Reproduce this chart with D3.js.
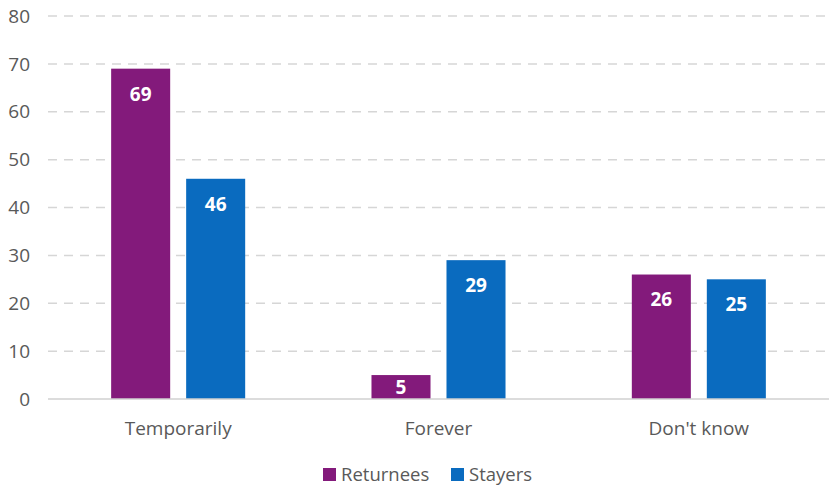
<!DOCTYPE html>
<html>
<head>
<meta charset="utf-8">
<script src="https://cdn.jsdelivr.net/npm/d3@7"></script>
<style>
  body { margin: 0; background: #fff; }
  text { font-family: "Open Sans", "Noto Sans", sans-serif; }
</style>
</head>
<body>
<div id="chart"></div>
<script>
// data
const categories = ["Temporarily", "Forever", "Don't know"];
const series = ["Returnees", "Stayers"];
const returnees = [69, 5, 26];
const stayers = [46, 29, 25];
const yTicks = [0, 10, 20, 30, 40, 50, 60, 70, 80];

const colors = {Returnees: "#831a7b", Stayers: "#0a6bbf"};

const width = 831, height = 486;
const margin = {top: 16, bottom: 87, left: 48, right: 2};

const rows = categories.map((c, i) => ({category: c, Returnees: returnees[i], Stayers: stayers[i]}));

const svg = d3.select("#chart")
    .append("svg")
    .attr("width", width)
    .attr("height", height);

const x0 = d3.scaleBand()
    .domain(categories)
    .range([margin.left, width - margin.right])
    .padding(0);

const x1 = d3.scaleBand()
    .domain(series)
    .range([0, x0.bandwidth()])
    .paddingInner(0.213)
    .paddingOuter(0.842);

const y = d3.scaleLinear()
    .domain([0, 80])
    .range([height - margin.bottom, margin.top]);

// dashed gridlines
svg.append("g")
    .selectAll("line")
    .data(yTicks.filter(d => d > 0))
    .enter()
    .append("line")
    .attr("x1", margin.left)
    .attr("x2", width - margin.right)
    .attr("y1", d => y(d))
    .attr("y2", d => y(d))
    .attr("stroke", "#d6d6d6")
    .attr("stroke-width", 1.5)
    .attr("stroke-dasharray", "9,7");

// y tick labels
svg.append("g")
    .selectAll("text")
    .data(yTicks)
    .enter()
    .append("text")
    .attr("x", 30)
    .attr("y", d => y(d))
    .attr("dy", "0.35em")
    .attr("text-anchor", "end")
    .attr("fill", "#595959")
    .style("font-size", "19px")
    .text(d => d);

// bars
const groups = svg.append("g")
    .selectAll("g")
    .data(rows)
    .enter()
    .append("g")
    .attr("transform", d => `translate(${x0(d.category)},0)`);

const cells = groups.selectAll("g")
    .data(d => series.map(s => ({key: s, value: d[s]})))
    .enter()
    .append("g");

cells.append("rect")
    .attr("x", d => x1(d.key))
    .attr("y", d => y(d.value))
    .attr("width", x1.bandwidth())
    .attr("height", d => y(0) - y(d.value))
    .attr("fill", d => colors[d.key]);

// label sits just inside the bar top, or in the middle for short bars
cells.append("text")
    .attr("x", d => x1(d.key) + x1.bandwidth() / 2)
    .attr("y", d => Math.min(y(d.value) + 25, (y(d.value) + y(0)) / 2))
    .attr("dy", "0.36em")
    .attr("text-anchor", "middle")
    .attr("fill", "#fff")
    .style("font-size", "19px")
    .style("font-weight", "bold")
    .text(d => d.value);

// baseline
svg.append("line")
    .attr("x1", margin.left)
    .attr("x2", width - margin.right)
    .attr("y1", y(0))
    .attr("y2", y(0))
    .attr("stroke", "#d0d0d0")
    .attr("stroke-width", 1.5);

// category labels
svg.append("g")
    .selectAll("text")
    .data(categories)
    .enter()
    .append("text")
    .attr("x", d => x0(d) + x0.bandwidth() / 2)
    .attr("y", 435)
    .attr("text-anchor", "middle")
    .attr("fill", "#595959")
    .style("font-size", "19px")
    .text(d => d);

// legend
const legendX = [323, 451];
const legend = svg.append("g");
series.forEach((s, i) => {
    legend.append("rect")
        .attr("x", legendX[i])
        .attr("y", 468)
        .attr("width", 13)
        .attr("height", 13)
        .attr("fill", colors[s]);
    legend.append("text")
        .attr("x", legendX[i] + 18)
        .attr("y", 481)
        .attr("fill", "#595959")
        .style("font-size", "18.5px")
        .text(s);
});
</script>
</body>
</html>
